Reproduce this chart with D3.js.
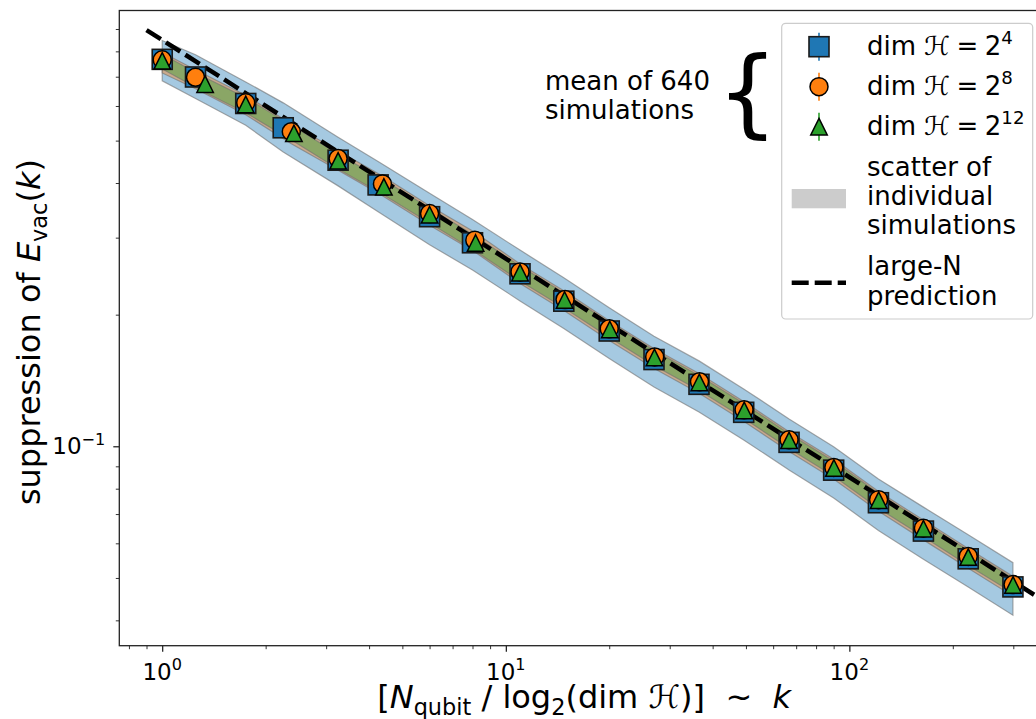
<!DOCTYPE html>
<html><head><meta charset="utf-8">
<script src="https://cdn.jsdelivr.net/npm/d3@7/dist/d3.min.js"></script>
<style>
body{margin:0;background:#fff}
text{font-family:"DejaVu Sans",sans-serif;fill:#000;white-space:pre}
</style>
</head><body>
<svg id="chart" width="1036" height="719"></svg>
<script>
// ---------- data ----------
const kSq  = [1, 1.25, 1.75, 2.25, 3.25, 4.25, 6, 8, 11, 14.75, 20, 27, 36.5, 49.25, 66.75, 90, 121.5, 164.25, 221.75, 299.25];
const vSq  = [0.767, 0.699, 0.608, 0.535, 0.451, 0.396, 0.335, 0.292, 0.248, 0.2147, 0.1835, 0.1579, 0.1386, 0.1196, 0.1021, 0.0882, 0.0743, 0.0640, 0.0553, 0.0477];
const hiSq = [0.847, 0.786, 0.681, 0.610, 0.509, 0.448, 0.379, 0.330, 0.281, 0.243, 0.2075, 0.1785, 0.1568, 0.1353, 0.1155, 0.0998, 0.0842, 0.0726, 0.0628, 0.0542];
const loSq = [0.685, 0.624, 0.542, 0.471, 0.394, 0.344, 0.289, 0.253, 0.215, 0.186, 0.1588, 0.1366, 0.1198, 0.1034, 0.0883, 0.0762, 0.0642, 0.0552, 0.0477, 0.0411];

const kCi  = [1, 1.25, 1.75, 2.375, 3.25, 4.375, 6, 8.125, 11, 14.875, 20, 27.125, 36.625, 49.375, 66.75, 90.125, 121.625, 164.25, 221.75, 299.5];
const vCi  = [0.765, 0.698, 0.610, 0.524, 0.455, 0.398, 0.3406, 0.296, 0.2505, 0.2166, 0.1857, 0.1601, 0.1405, 0.1212, 0.1035, 0.0895, 0.0755, 0.0650, 0.0560, 0.0483];
const hiCi = [0.795, 0.726, 0.635, 0.546, 0.474, 0.415, 0.3550, 0.3086, 0.2612, 0.2259, 0.1937, 0.1670, 0.1466, 0.1264, 0.1080, 0.0934, 0.0788, 0.0678, 0.0584, 0.0504];
const loCi = [0.714, 0.657, 0.573, 0.492, 0.428, 0.374, 0.3202, 0.2782, 0.2355, 0.2036, 0.1746, 0.1505, 0.1321, 0.1139, 0.0973, 0.0841, 0.0710, 0.0611, 0.0526, 0.0454];

const kTr  = [1, 1.333, 1.75, 2.417, 3.25, 4.417, 6, 8.167, 11, 14.83, 20.08, 27.08, 36.58, 49.42, 66.75, 90.17, 121.7, 164.3, 221.8, 299.5];
const vTr  = [0.761, 0.673, 0.605, 0.5195, 0.4496, 0.392, 0.3385, 0.2917, 0.2495, 0.2160, 0.1850, 0.1597, 0.1400, 0.1208, 0.1032, 0.0892, 0.0753, 0.0648, 0.0558, 0.0482];
const hiTr = [0.788, 0.697, 0.627, 0.538, 0.466, 0.406, 0.3507, 0.3022, 0.2585, 0.2238, 0.1917, 0.1655, 0.1450, 0.1251, 0.1069, 0.0924, 0.0780, 0.0671, 0.0578, 0.0499];
const loTr = [0.729, 0.644, 0.579, 0.4975, 0.4305, 0.3754, 0.3242, 0.2793, 0.2389, 0.2068, 0.1772, 0.1529, 0.1341, 0.1157, 0.0988, 0.0854, 0.0721, 0.0621, 0.0534, 0.0462];

const predK = [0.9, 400];
const predV = [0.895, 0.0425];

const xMajor = [1, 10, 100];
const xMajorExp = ["0", "1", "2"];
const xMinor = [0.8, 0.9, 2, 3, 4, 5, 6, 7, 8, 9, 20, 30, 40, 50, 60, 70, 80, 90, 200, 300];
const yMajor = [0.1];
const yMajorExp = ["\u22121"];
const yMinor = [0.04, 0.05, 0.06, 0.07, 0.08, 0.09, 0.2, 0.3, 0.4, 0.5, 0.6, 0.7, 0.8, 0.9];

const legendLabels = ["4", "8", "12"];
const annotation = ["mean of 640", "simulations"];

// ---------- layout ----------
const L = 119.3, R = 1045, T = 10.5, B = 645.7;
const svg = d3.select("#chart");
const x = d3.scaleLog().domain([0.75, 371]).range([L, R]);
const y = d3.scaleLog().domain([0.035, 0.992]).range([B, T]);

const C0 = "#1f77b4", C1 = "#ff7f0e", C2 = "#2ca02c";

svg.append("defs").append("clipPath").attr("id", "clip")
  .append("rect").attr("x", L).attr("y", T).attr("width", R - L).attr("height", B - T);
const plot = svg.append("g").attr("clip-path", "url(#clip)");

function zip(ks, vs, his, los) { return ks.map((k, i) => ({k, v: vs[i], hi: his[i], lo: los[i]})); }
const sq = zip(kSq, vSq, hiSq, loSq), ci = zip(kCi, vCi, hiCi, loCi), tr = zip(kTr, vTr, hiTr, loTr);

const area = d3.area().x(d => x(d.k)).y0(d => y(d.lo)).y1(d => y(d.hi));
[[sq, C0], [ci, C1], [tr, C2]].forEach(([d, c]) => {
  plot.append("path").datum(d).attr("d", area)
    .attr("fill", c).attr("fill-opacity", 0.4)
    .attr("stroke", "#6f6f6f").attr("stroke-opacity", 0.6).attr("stroke-width", 1.2);
});

// prediction line
const pred = predK.map((k, i) => ({k, v: predV[i]}));
plot.append("path").datum(pred)
  .attr("d", d3.line().x(d => x(d.k)).y(d => y(d.v)))
  .attr("fill", "none").attr("stroke", "#000").attr("stroke-width", 4.5)
  .attr("stroke-dasharray", "17,6");

// markers
const triPath = s => `M0,${-s/2}L${s/2},${s/2}L${-s/2},${s/2}Z`;
plot.selectAll(".sq").data(sq).enter().append("rect")
  .attr("x", d => x(d.k) - 10).attr("y", d => y(d.v) - 10)
  .attr("width", 20).attr("height", 20)
  .attr("fill", C0).attr("stroke", "#1a1a1a").attr("stroke-width", 1.6);
plot.selectAll(".ci").data(ci).enter().append("circle")
  .attr("cx", d => x(d.k)).attr("cy", d => y(d.v)).attr("r", 9)
  .attr("fill", C1).attr("stroke", "#000").attr("stroke-width", 1.5);
plot.selectAll(".tr").data(tr).enter().append("path")
  .attr("transform", d => `translate(${x(d.k)},${y(d.v)})`)
  .attr("d", triPath(16.5))
  .attr("fill", C2).attr("stroke", "#000").attr("stroke-width", 1.5);

// ---------- axes ----------
function axisG(axis, tr) {
  const g = svg.append("g").attr("transform", tr).call(axis);
  g.select(".domain").remove();
  g.selectAll(".tick line").attr("stroke", "#000");
  return g;
}
axisG(d3.axisBottom(x).tickValues(xMajor).tickSize(6).tickFormat(""), `translate(0,${B})`)
  .selectAll(".tick line").attr("stroke-width", 1.1);
axisG(d3.axisBottom(x).tickValues(xMinor).tickSize(3.5).tickFormat(""), `translate(0,${B})`)
  .selectAll(".tick line").attr("stroke-width", 0.8);
axisG(d3.axisLeft(y).tickValues(yMajor).tickSize(6).tickFormat(""), `translate(${L},0)`)
  .selectAll(".tick line").attr("stroke-width", 1.1);
axisG(d3.axisLeft(y).tickValues(yMinor).tickSize(3.5).tickFormat(""), `translate(${L},0)`)
  .selectAll(".tick line").attr("stroke-width", 0.8);

// frame
svg.append("rect").attr("x", L).attr("y", T).attr("width", R - L).attr("height", B - T)
  .attr("fill", "none").attr("stroke", "#222").attr("stroke-width", 1.3);

function rich(sel, parts, fs) {
  let shift = 0;
  parts.forEach(p => {
    const ts = sel.append("tspan").text(p.t);
    const target = p.sub ? fs * 0.22 : p.sup ? -fs * 0.42 : 0;
    ts.attr("dy", target - shift); shift = target;
    if (p.sub || p.sup) ts.attr("font-size", fs * 0.7);
    if (p.it) ts.attr("font-style", "italic");
  });
}

const tickFs = 23;
xMajor.forEach((v, i) => {
  const t = svg.append("text").attr("x", x(v)).attr("y", B + 34)
    .attr("text-anchor", "middle").attr("font-size", tickFs);
  rich(t, [{t: "10"}, {t: xMajorExp[i], sup: true}], tickFs);
});
yMajor.forEach((v, i) => {
  const t = svg.append("text").attr("x", L - 14).attr("y", y(v) + 8)
    .attr("text-anchor", "end").attr("font-size", tickFs);
  rich(t, [{t: "10"}, {t: yMajorExp[i], sup: true}], tickFs);
});

// axis labels
const labFs = 32;
const xl = svg.append("text").attr("x", (L + R) / 2 + 2).attr("y", 708)
  .attr("text-anchor", "middle").attr("font-size", labFs);
rich(xl, [{t: "["}, {t: "N", it: true}, {t: "qubit", sub: true}, {t: " / log"}, {t: "2", sub: true},
          {t: "(dim \u210B)]  ~  "}, {t: "k", it: true}], labFs);
const yl = svg.append("text").attr("transform", `translate(40,${(T + B) / 2 + 4}) rotate(-90)`)
  .attr("text-anchor", "middle").attr("font-size", labFs);
rich(yl, [{t: "suppression of "}, {t: "E", it: true}, {t: "vac", sub: true}, {t: "("}, {t: "k", it: true}, {t: ")"}], labFs);

// annotation
const annFs = 26;
annotation.forEach((s, i) => {
  svg.append("text").attr("x", 545).attr("y", 90 + i * 29).attr("font-size", annFs).text(s);
});
svg.append("text").attr("x", 717).attr("y", 125).attr("font-size", 96).text("{");

// ---------- legend ----------
const lg = svg.append("g");
lg.append("rect").attr("x", 781.7).attr("y", 23.3).attr("width", 251).attr("height", 295.7)
  .attr("rx", 4).attr("fill", "#fff").attr("fill-opacity", 0.8)
  .attr("stroke", "#cccccc").attr("stroke-width", 1.2);
const legFs = 26, mx = 819;
const rows = [46.7, 86.7, 126.7];
const cols = [C0, C1, C2];
rows.forEach((cy, i) => {
  lg.append("line").attr("x1", mx).attr("x2", mx).attr("y1", cy - 14).attr("y2", cy + 14)
    .attr("stroke", cols[i]).attr("stroke-width", 1.6);
});
lg.append("rect").attr("x", mx - 10).attr("y", rows[0] - 10).attr("width", 20).attr("height", 20)
  .attr("fill", C0).attr("stroke", "#1a1a1a").attr("stroke-width", 1.6);
lg.append("circle").attr("cx", mx).attr("cy", rows[1]).attr("r", 9)
  .attr("fill", C1).attr("stroke", "#000").attr("stroke-width", 1.5);
lg.append("path").attr("transform", `translate(${mx},${rows[2]})`).attr("d", triPath(16.5))
  .attr("fill", C2).attr("stroke", "#000").attr("stroke-width", 1.5);
legendLabels.forEach((e, i) => {
  const t = lg.append("text").attr("x", 867).attr("y", rows[i] + 8.5).attr("font-size", legFs);
  rich(t, [{t: "dim "}, {t: "\u210B"}, {t: "\u2005=\u20052"}, {t: e, sup: true}], legFs);
});
lg.append("rect").attr("x", 791.7).attr("y", 189).attr("width", 54.3).attr("height", 19.3).attr("fill", "#cccccc");
["scatter of", "individual", "simulations"].forEach((s, i) => {
  lg.append("text").attr("x", 867).attr("y", 176 + i * 29).attr("font-size", legFs).text(s);
});
lg.append("line").attr("x1", 791.7).attr("x2", 846).attr("y1", 282.7).attr("y2", 282.7)
  .attr("stroke", "#000").attr("stroke-width", 4.5).attr("stroke-dasharray", "17,6");
["large-N", "prediction"].forEach((s, i) => {
  lg.append("text").attr("x", 867).attr("y", 275 + i * 30).attr("font-size", legFs).text(s);
});
</script>
</body></html>
